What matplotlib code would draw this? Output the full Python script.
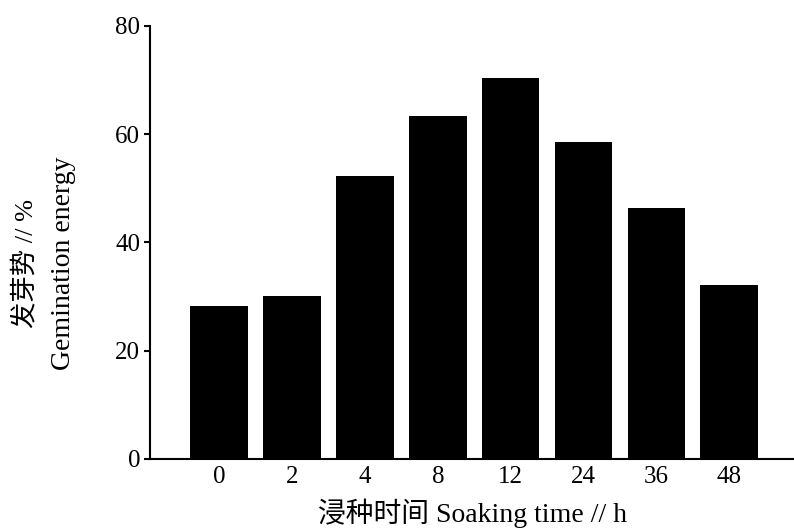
import matplotlib
matplotlib.use("Agg")
import matplotlib.pyplot as plt

categories = ["0", "2", "4", "8", "12", "24", "36", "48"]
values = [28.3, 30.2, 52.2, 63.4, 70.4, 58.5, 46.4, 32.2]
y_ticks = [0, 20, 40, 60, 80]

fam = ["Liberation Serif", "Noto Sans CJK SC"]
plt.rcParams["font.family"] = fam

fig = plt.figure(figsize=(7.94, 5.30), dpi=100)
ax = fig.add_axes([0.189, 0.134, 0.811, 0.817])

x = list(range(len(categories)))
ax.bar(x, values, width=0.79, color="black", edgecolor="none")

ax.set_xlim(-0.95, 7.89)
ax.set_ylim(0, 80)
ax.set_yticks(y_ticks)
ax.set_xticks(x)
ax.set_xticklabels(categories)
ax.tick_params(axis="y", direction="out", length=4, width=1.5, labelsize=18, pad=3)
ax.tick_params(axis="x", length=0, labelsize=18, pad=5)

for s in ["top", "right"]:
    ax.spines[s].set_visible(False)
for s in ["left", "bottom"]:
    ax.spines[s].set_linewidth(1.5)

ax.set_xlabel("浸种时间 Soaking time // h", fontsize=20, labelpad=8)

fig.text(0.032, 0.503, "发芽势 // %", rotation=90, ha="center", va="center", fontsize=19)
fig.text(0.080, 0.503, "Gemination energy", rotation=90, ha="center", va="center", fontsize=20)

fig.savefig("out.png", dpi=100)
